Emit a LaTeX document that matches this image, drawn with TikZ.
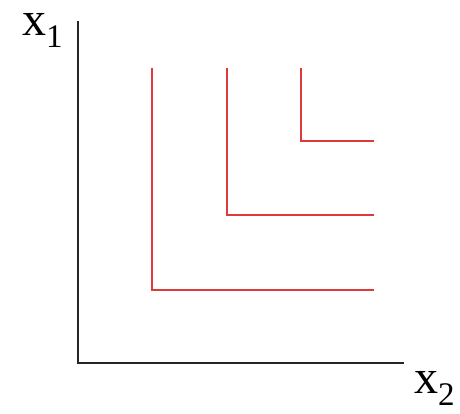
\documentclass[tikz,border=0pt]{standalone}
\usepackage{fontspec}
\setmainfont{Liberation Serif}
\definecolor{curvered}{RGB}{222,58,58}
\tikzset{
  axis/.style={line width=2pt, draw=black!85},
  indiff/.style={line width=2.4pt, draw=curvered},
  lbl/.style={inner sep=0pt, anchor=base west, text height=24pt, text depth=14pt,
    font=\fontsize{48}{48}\selectfont},
}
\newcommand{\subsc}[1]{\raisebox{-12pt}{\fontsize{33}{33}\selectfont #1}}
\begin{document}
\begin{tikzpicture}[x=1pt,y=-1pt]
\useasboundingbox (0,0) rectangle (460,413);
\coordinate (top) at (78,21);
\coordinate (origin) at (78,363);
\coordinate (right) at (404,363);
\draw[axis] (top) -- (origin) -- (right);
\node[lbl] (xone) at (22,35) {x\subsc{1}};
\node[lbl] (xtwo) at (414,393) {x\subsc{2}};
\coordinate (a1) at (152,68);
\coordinate (a2) at (152,290);
\coordinate (a3) at (374,290);
\coordinate (b1) at (227,68);
\coordinate (b2) at (227,215);
\coordinate (b3) at (374,215);
\coordinate (c1) at (301,68);
\coordinate (c2) at (301,141);
\coordinate (c3) at (374,141);
\draw[indiff] (a1) -- (a2) -- (a3);
\draw[indiff] (b1) -- (b2) -- (b3);
\draw[indiff] (c1) -- (c2) -- (c3);
\end{tikzpicture}
\end{document}
